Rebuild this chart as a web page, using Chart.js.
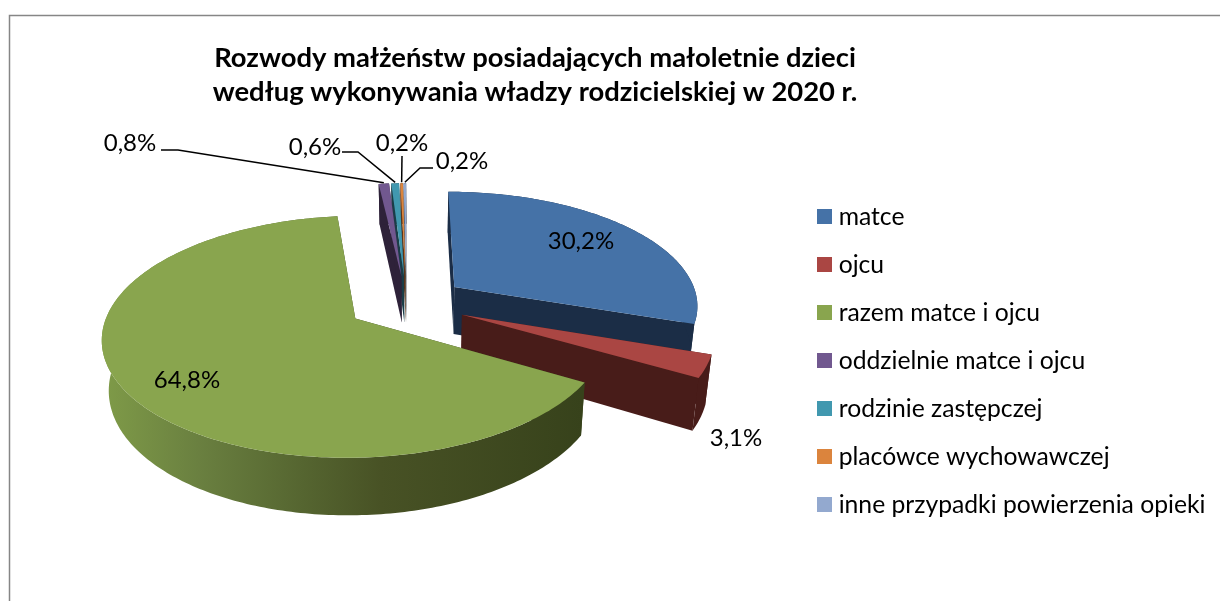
<!DOCTYPE html>
<html lang="pl">
<head>
<meta charset="utf-8">
<style>html,body{margin:0;padding:0;background:#fff}canvas{display:block}</style>
<script src="https://cdn.jsdelivr.net/npm/chart.js@4"></script>
</head>
<body>
<canvas id="c" width="1220" height="601"></canvas>
<script>
const categories = ['matce','ojcu','razem matce i ojcu','oddzielnie matce i ojcu','rodzinie zastępczej','placówce wychowawczej','inne przypadki powierzenia opieki'];
const shares = [30.2,3.1,64.8,0.8,0.6,0.2,0.2];
const topColors = ['#4572A7','#AA4643','#89A54E','#71588F','#4198AF','#DB843D','#93A9CF'];
const sideColors = ['#1B2D46','#481C19','#3A451E','#2E2239','#1A3D47','#59351A','#3B4454'];
const titleLines = ['Rozwody małżeństw posiadających małoletnie dzieci','według wykonywania władzy rodzicielskiej w 2020 r.'];
const labelPlacement = [[581,241],[736,438],[187,380],[130,143],[315,147],[402,143],[462,161]];
const leaderElbows = [null,null,null,[[161,150],[178,150]],[[342,152],[358,152]],[[402,156]],[[433,168],[420,168]]];
const drawOrder = [6,5,4,3,0,1,2];
const FONT = 'Lato';
const CX = 406.5, CY = 303, RADIUS = 244.5, EXPLODE = 60;
const TILT = 0.465, PERSPECTIVE = 0.0006, DEPTH = 48, VANISH_X = 420, SHRINK = 0.022;

function project(u, v, low) {
  const s = 1 / (1 + PERSPECTIVE * v);
  let x = CX + u * s, y = CY - TILT * v * s;
  if (low) { x -= (x - VANISH_X) * SHRINK; y += DEPTH * s; }
  return [x, y];
}
function trace(ctx, pts) {
  ctx.beginPath();
  pts.forEach((p, i) => i ? ctx.lineTo(p[0], p[1]) : ctx.moveTo(p[0], p[1]));
  ctx.closePath();
}
function swatch(color) {
  const c = document.createElement('canvas');
  c.width = 15; c.height = 15;
  const g = c.getContext('2d');
  g.fillStyle = color; g.fillRect(0, 0, 15, 15);
  return c;
}
const pie3d = {
  id: 'pie3d',
  afterLayout(chart) {
    Object.assign(chart.chartArea, {left: CX - 300, right: CX + 300, top: CY - 280, bottom: CY + 280, width: 600, height: 560});
    const t = chart.titleBlock;
    t.left = 0; t.right = 1070; t.top = 41; t.bottom = 110;
    const l = chart.legend;
    const w = l.right - l.left, h = l.bottom - l.top;
    l.left = 799; l.right = 799 + w;
    l.top = 181; l.bottom = 181 + h;
  },
  beforeDatasetDraw(chart) {
    const ctx = chart.ctx;
    const arcs = chart.getDatasetMeta(0).data;
    const geom = arcs.map(el => {
      const mid = (el.startAngle + el.endAngle) / 2;
      const off = el.options.offset;
      const ou = Math.cos(mid) * off, ov = -Math.sin(mid) * off;
      const pt = (a, r) => [ou + Math.cos(a) * r, ov - Math.sin(a) * r];
      return {el, mid, pt, ou, ov};
    });
    drawOrder.forEach(i => {
      const g = geom[i], el = g.el, R = el.outerRadius;
      const n = Math.max(4, Math.ceil((el.endAngle - el.startAngle) * 60));
      const rim = [];
      for (let k = 0; k <= n; k++) rim.push(g.pt(el.startAngle + (el.endAngle - el.startAngle) * k / n, R));
      const tipTop = project(g.ou, g.ov, false), tipLow = project(g.ou, g.ov, true);
      ctx.fillStyle = sideColors[i];
      [rim[0], rim[n]].forEach(p => {
        trace(ctx, [tipTop, project(p[0], p[1], false), project(p[0], p[1], true), tipLow]);
        ctx.fill();
      });
      let wallFill = sideColors[i];
      if (i === 2) {
        const gr = ctx.createLinearGradient(102, 0, 582, 0);
        gr.addColorStop(0, '#7F9B48');
        gr.addColorStop(0.2, '#6A8040');
        gr.addColorStop(0.42, '#556530');
        gr.addColorStop(0.58, '#485225');
        gr.addColorStop(1, '#37421B');
        wallFill = gr;
      }
      ctx.fillStyle = wallFill;
      trace(ctx, rim.map(p => project(p[0], p[1], false)).concat(rim.slice().reverse().map(p => project(p[0], p[1], true))));
      ctx.fill();
      ctx.fillStyle = topColors[i];
      trace(ctx, [tipTop].concat(rim.map(p => project(p[0], p[1], false))));
      ctx.fill();
    });
    ctx.save();
    ctx.strokeStyle = '#000';
    ctx.lineWidth = 1.5;
    geom.forEach((g, i) => {
      const elbows = leaderElbows[i];
      if (!elbows) return;
      const p = g.pt((g.el.startAngle + g.el.endAngle) / 2, g.el.outerRadius);
      const end = project(p[0], p[1], false);
      ctx.beginPath();
      elbows.forEach((q, k) => k ? ctx.lineTo(q[0], q[1]) : ctx.moveTo(q[0], q[1]));
      ctx.lineTo(end[0], end[1] - 1);
      ctx.stroke();
    });
    ctx.fillStyle = '#000';
    ctx.font = '24px ' + FONT;
    ctx.textAlign = 'center';
    ctx.textBaseline = 'middle';
    shares.forEach((v, i) => {
      ctx.fillText(v.toFixed(1).replace('.', ',') + '%', labelPlacement[i][0], labelPlacement[i][1]);
    });
    ctx.restore();
    return false;
  },
  beforeDraw(chart) {
    const ctx = chart.ctx;
    ctx.save();
    ctx.strokeStyle = '#868686';
    ctx.lineWidth = 1.5;
    ctx.beginPath();
    ctx.moveTo(9.5, 601);
    ctx.lineTo(9.5, 15.5);
    ctx.lineTo(1220, 15.5);
    ctx.stroke();
    ctx.restore();
  }
};
new Chart(document.getElementById('c'), {
  type: 'pie',
  data: {
    labels: categories,
    datasets: [{data: shares, backgroundColor: topColors, borderWidth: 0, offset: EXPLODE, hoverOffset: EXPLODE}]
  },
  options: {
    responsive: false,
    animation: false,
    radius: RADIUS,
    events: [],
    plugins: {
      title: {
        display: true,
        text: titleLines,
        color: '#000',
        font: {family: FONT, size: 27.4, weight: 'bold', lineHeight: 1.24},
        padding: 0
      },
      legend: {
        position: 'right',
        align: 'start',
        labels: {
          color: '#000',
          font: {family: FONT, size: 24.7},
          padding: 23.3,
          boxHeight: 15,
          usePointStyle: true,
          pointStyleWidth: 4,
          generateLabels: () => categories.map((t, i) => ({text: t, pointStyle: swatch(topColors[i]), fillStyle: topColors[i], strokeStyle: topColors[i], lineWidth: 0, index: i}))
        }
      },
      tooltip: {enabled: false}
    }
  },
  plugins: [pie3d]
});
</script>
</body>
</html>
